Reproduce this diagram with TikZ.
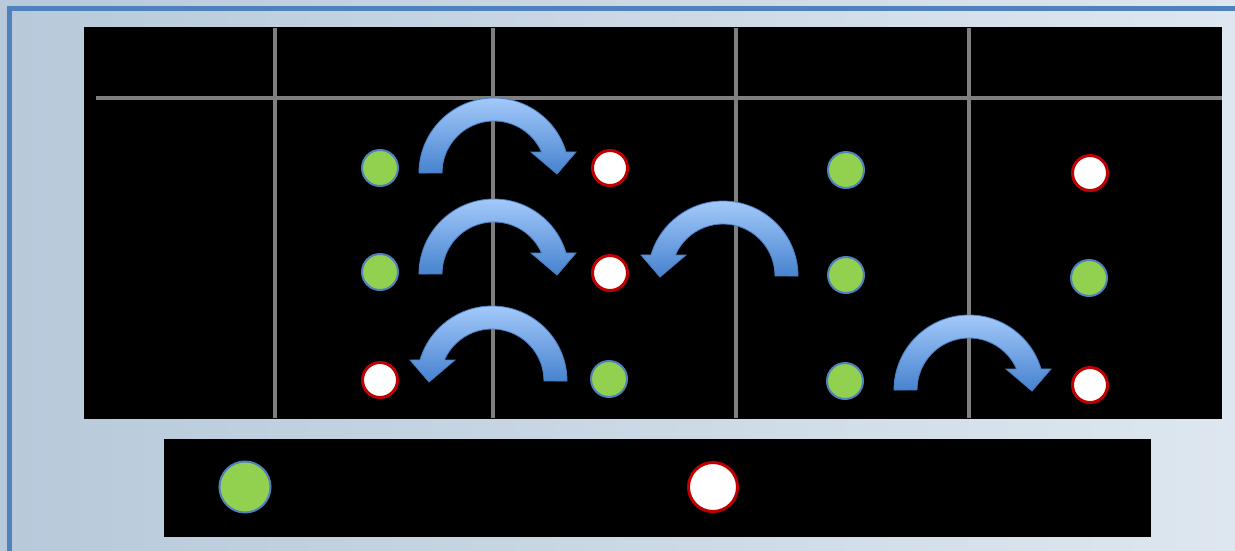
\documentclass[tikz,border=0pt]{standalone}
\usetikzlibrary{positioning}

\definecolor{bgleft}{HTML}{B7C9DA}
\definecolor{bgright}{HTML}{DEE7EF}
\definecolor{framebl}{HTML}{4F81BD}
\definecolor{gridgray}{HTML}{7F7F7F}
\definecolor{ptgreen}{HTML}{92D050}
\definecolor{ptblue}{HTML}{4F81BD}
\definecolor{ptred}{HTML}{C00000}
\definecolor{arrtop}{HTML}{A3C9FA}
\definecolor{arrbot}{HTML}{4682CF}
\definecolor{arredge}{HTML}{4A7FC4}

\tikzset{
  goodpt/.style={circle, fill=ptgreen, draw=ptblue, line width=2pt,
                 minimum size=36pt, inner sep=0pt},
  freept/.style={circle, fill=white, draw=ptred, line width=3pt,
                 minimum size=35pt, inner sep=0pt},
  gridline/.style={gridgray, line width=3.4pt},
  jumparrow/.pic={
    \shade[top color=arrtop, bottom color=arrbot, draw=arredge, line width=0.8pt]
      (-75,0) arc[start angle=-180, end angle=-16.3, radius=75]
      -- (82,-21) -- (63,1) -- (37,-21) -- (47.6,-21)
      arc[start angle=-23.8, end angle=-180, radius=52] -- cycle;
  }
}

\begin{document}
\begin{tikzpicture}[x=1pt, y=-1pt]
    % Background and frame
    \useasboundingbox (0,0) rectangle (1235,550);
    \shade[left color=bgleft, right color=bgright] (0,0) rectangle (1235,550);
    \draw[framebl, line width=5pt] (9.3,8.3) rectangle (1260,580);

    % Table
    \fill[black] (84,27) rectangle (1222,419);
    \foreach \x in {275,493,736,969}
        \draw[gridline] (\x,28) -- (\x,418);
    \draw[gridline] (96,98) -- (1222,98);

    % Jump arrows (drawn before the points)
    \pic at (494,173) {jumparrow};
    \pic at (494,274) {jumparrow};
    \pic[xscale=-1] at (723,276) {jumparrow};
    \pic[xscale=-1] at (492,381) {jumparrow};
    \pic at (969,390) {jumparrow};

    % Occupied points
    \node[goodpt] (g1) at (380,168) {};
    \node[goodpt] (g2) at (380,272) {};
    \node[goodpt] (g3) at (609,379) {};
    \node[goodpt] (g4) at (846,170) {};
    \node[goodpt] (g5) at (846,275) {};
    \node[goodpt] (g6) at (845,381) {};
    \node[goodpt] (g7) at (1089,278) {};

    % Empty points
    \node[freept] (w1) at (610,168) {};
    \node[freept] (w2) at (610,273) {};
    \node[freept] (w3) at (380,380) {};
    \node[freept] (w4) at (1090,173) {};
    \node[freept] (w5) at (1090,385) {};

    % Legend
    \fill[black] (164,439) rectangle (1151,537);
    \node[goodpt, minimum size=51pt] (leggood) at (245,487) {};
    \node[freept, minimum size=49pt] (legfree) at (713,487) {};
\end{tikzpicture}
\end{document}
